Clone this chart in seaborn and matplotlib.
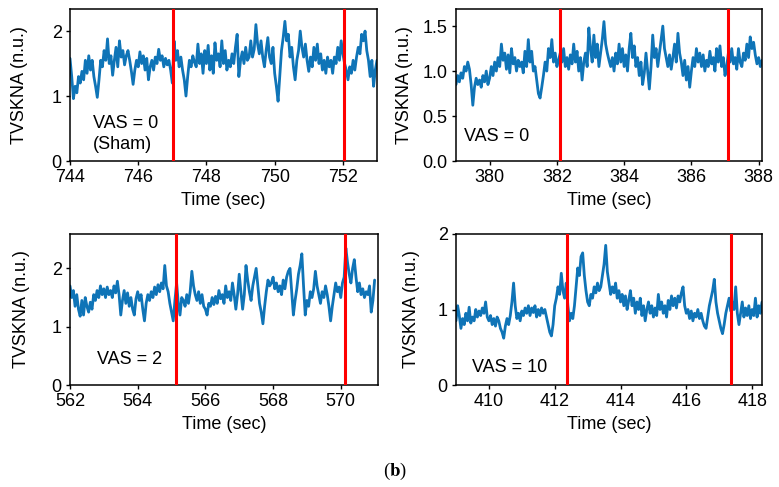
import numpy as np
import matplotlib
matplotlib.use("Agg")
import matplotlib.pyplot as plt
import seaborn as sns

# TVSKNA traces, 0.05 s apart
sham_vals = [1.58, 1.30, 0.96, 1.15, 1.05, 1.30, 1.20, 1.38, 1.25, 1.55, 1.35, 1.62, 1.40, 1.55, 1.30, 1.15,
             0.98, 1.25, 1.55, 1.45, 1.70, 1.55, 1.88, 1.50, 1.62, 1.32, 1.55, 1.75, 1.45, 1.85, 1.60, 1.70,
             1.48, 1.62, 1.70, 1.55, 1.38, 1.18, 1.40, 1.55, 1.45, 1.68, 1.50, 1.62, 1.40, 1.58, 1.25, 1.45,
             1.55, 1.40, 1.60, 1.50, 1.72, 1.55, 1.62, 1.45, 1.58, 1.48, 1.55, 1.40, 1.20, 1.85, 1.55, 1.70,
             1.45, 1.60, 1.40, 1.25, 1.00, 1.30, 1.55, 1.45, 1.62, 1.52, 1.45, 1.80, 1.50, 1.65, 1.35, 1.70,
             1.50, 1.78, 1.40, 1.62, 1.35, 1.82, 1.55, 1.65, 1.45, 1.85, 1.50, 1.70, 1.40, 1.55, 1.45, 1.65,
             1.50, 1.75, 1.95, 1.30, 1.55, 1.68, 1.50, 1.75, 1.55, 1.60, 1.85, 1.60, 1.72, 2.10, 1.80, 1.65,
             1.85, 1.60, 1.45, 1.70, 1.90, 1.60, 1.50, 1.75, 1.35, 1.15, 0.92, 1.30, 1.70, 1.90, 2.15, 1.85,
             1.95, 1.60, 1.75, 1.45, 1.25, 1.55, 1.70, 2.00, 1.75, 1.60, 1.80, 1.55, 1.38, 1.60, 1.45, 1.75,
             1.55, 1.80, 1.50, 1.65, 1.40, 1.55, 1.35, 1.60, 1.45, 1.55, 1.35, 1.60, 1.50, 1.75, 1.55, 1.85,
             1.65, 1.50, 1.40, 1.25, 1.45, 1.35, 1.55, 1.40, 1.60, 1.75, 1.65, 1.95, 1.85, 2.00, 1.70, 1.55,
             1.30, 1.55, 1.15, 1.40, 1.55]
vas0_vals = [0.85, 0.95, 0.88, 0.98, 0.92, 1.05, 1.00, 1.10, 1.02, 0.85, 0.62, 0.82, 0.92, 0.85, 0.90, 0.82,
             0.95, 0.88, 1.00, 0.85, 0.92, 1.05, 0.95, 1.10, 1.00, 1.15, 1.05, 1.30, 1.12, 1.20, 1.02, 1.18,
             0.98, 1.25, 1.08, 1.15, 1.00, 1.12, 1.05, 1.10, 0.98, 1.22, 1.05, 1.35, 1.10, 1.22, 1.00, 1.05,
             0.90, 0.75, 0.70, 0.82, 0.95, 1.10, 1.00, 1.25, 1.15, 1.35, 1.10, 1.20, 1.05, 1.12, 1.20, 1.10,
             1.25, 1.05, 1.15, 1.02, 1.18, 1.08, 1.30, 1.10, 1.22, 1.00, 1.15, 0.90, 1.10, 1.20, 1.05, 1.48,
             1.25, 1.10, 1.40, 1.15, 1.30, 1.05, 1.20, 1.35, 1.55, 1.30, 1.20, 1.12, 1.05, 1.15, 1.00, 1.20,
             1.08, 1.30, 1.10, 1.25, 1.05, 1.18, 1.00, 1.25, 1.42, 1.15, 1.28, 1.05, 1.15, 0.95, 1.10, 0.85,
             0.98, 1.20, 1.00, 0.80, 1.05, 1.40, 1.15, 1.25, 1.05, 1.20, 1.35, 1.50, 1.25, 1.15, 1.05, 1.18,
             1.02, 1.15, 1.30, 1.10, 1.42, 1.20, 1.10, 0.95, 1.12, 0.90, 1.05, 0.82, 1.00, 1.15, 1.05, 1.25,
             1.10, 1.20, 1.05, 1.18, 1.00, 1.12, 1.05, 1.22, 1.08, 1.15, 1.00, 1.25, 1.10, 1.28, 1.05, 1.15,
             0.95, 1.05, 1.20, 1.10, 1.25, 1.08, 1.15, 1.02, 1.25, 1.10, 1.05, 1.20, 1.12, 1.30, 1.15, 1.38,
             1.25, 1.32, 1.18, 1.08, 1.15, 1.05, 1.12]
vas2_vals = [1.70, 1.50, 1.62, 1.35, 1.55, 1.30, 1.18, 1.45, 1.20, 1.50, 1.35, 1.25, 1.42, 1.30, 1.55, 1.45,
             1.62, 1.50, 1.70, 1.55, 1.65, 1.50, 1.68, 1.55, 1.62, 1.50, 1.70, 1.58, 1.78, 1.55, 1.20, 1.45,
             1.62, 1.40, 1.58, 1.35, 1.50, 1.30, 1.20, 1.48, 1.60, 1.45, 1.55, 1.30, 1.10, 1.40, 1.55, 1.45,
             1.60, 1.50, 1.68, 1.55, 1.72, 1.60, 1.75, 1.65, 2.05, 1.70, 1.60, 1.40, 1.25, 1.10, 1.45, 1.75,
             1.40, 1.20, 1.50, 1.45, 1.35, 1.55, 1.40, 1.60, 1.95, 1.70, 1.55, 1.45, 1.60, 1.40, 1.55, 1.35,
             1.30, 1.20, 1.40, 1.35, 1.50, 1.38, 1.52, 1.40, 1.62, 1.48, 1.55, 1.40, 1.70, 1.50, 1.60, 1.45,
             1.75, 1.55, 1.30, 1.55, 1.90, 1.60, 1.30, 1.55, 2.05, 1.80, 1.60, 1.45, 1.70, 1.85, 2.00, 1.70,
             1.40, 1.25, 1.05, 1.35, 1.60, 1.80, 1.70, 1.75, 1.85, 1.65, 1.75, 1.60, 1.70, 1.55, 1.80, 1.65,
             1.85, 1.95, 2.00, 1.60, 1.20, 1.45, 1.65, 1.90, 2.05, 2.25, 1.70, 1.20, 1.45, 1.35, 1.60, 1.50,
             1.65, 1.95, 1.70, 1.55, 1.40, 1.60, 1.50, 1.70, 1.55, 1.35, 1.10, 1.35, 1.55, 1.75, 1.60, 1.68,
             1.50, 1.75, 1.85, 2.35, 2.10, 1.90, 1.75, 2.00, 2.15, 1.85, 1.60, 1.75, 1.55, 1.65, 1.50, 1.60,
             1.55, 1.70, 1.25, 1.45, 1.80]
vas10_vals = [0.85, 1.05, 0.92, 0.75, 0.88, 0.80, 0.95, 0.85, 1.03, 0.82, 0.90, 0.85, 1.00, 0.90, 0.98, 0.92,
              1.02, 0.95, 1.10, 0.90, 0.85, 0.92, 0.80, 0.88, 0.78, 0.90, 0.85, 0.75, 0.70, 0.62, 0.78, 0.88,
              0.80, 0.92, 1.10, 1.35, 1.05, 0.88, 0.95, 0.85, 0.98, 0.92, 1.02, 0.95, 1.05, 0.92, 1.02, 0.96,
              1.05, 0.90, 1.00, 0.92, 1.02, 0.95, 1.00, 0.90, 0.80, 0.70, 0.65, 0.80, 1.05, 1.15, 1.30, 1.20,
              1.48, 1.25, 1.15, 1.35, 1.05, 0.85, 0.95, 0.88, 1.05, 1.30, 1.55, 1.45, 1.70, 1.75, 1.45, 1.25,
              1.10, 1.05, 1.20, 1.15, 1.30, 1.22, 1.35, 1.25, 1.30, 1.45, 1.60, 1.85, 1.50, 1.35, 1.20, 1.30,
              1.22, 1.35, 1.15, 1.25, 1.10, 1.20, 1.05, 1.18, 1.00, 1.12, 1.25, 1.05, 1.15, 0.95, 1.10, 1.00,
              1.15, 0.92, 1.05, 0.85, 1.00, 1.10, 0.95, 1.05, 0.90, 1.02, 0.92, 1.20, 1.00, 1.10, 0.95, 1.05,
              0.90, 1.12, 1.00, 1.18, 1.05, 1.15, 1.02, 1.18, 1.10, 1.22, 1.30, 1.05, 0.95, 1.00, 0.88, 0.98,
              0.85, 0.95, 0.90, 1.00, 0.88, 0.95, 0.85, 0.78, 0.75, 0.90, 1.05, 1.15, 1.25, 1.40, 1.10, 0.95,
              0.85, 0.75, 0.68, 0.80, 0.95, 1.05, 1.15, 0.98, 1.10, 1.00, 1.30, 0.95, 0.80, 0.95, 1.10, 0.90,
              1.02, 0.92, 1.05, 0.88, 1.00, 0.92, 1.15, 0.90, 1.05, 0.95, 1.10]

starts = [744.0, 379.0, 562.0, 409.0]
traces = [sham_vals, vas0_vals, vas2_vals, vas10_vals]
labels = ["VAS = 0\n(Sham)", "VAS = 0", "VAS = 2", "VAS = 10"]
markers = [[747.02, 752.03], [382.08, 387.08], [565.12, 570.12], [412.36, 417.35]]
xlims = [(744, 753), (379, 388.1), (562, 571.1), (409, 418.3)]
ylims = [(0, 2.34), (0, 1.69), (0, 2.59), (0, 2.0)]
yticks = [[0, 1, 2], [0.0, 0.5, 1.0, 1.5], [0, 1, 2], [0, 1, 2]]
xticks = [range(744, 753, 2), range(380, 389, 2), range(562, 571, 2), range(410, 419, 2)]

sns.set_style("ticks")
plt.rcParams['font.family'] = ['Liberation Sans', 'DejaVu Sans']
plt.rcParams['font.size'] = 13
for key in ['text.color', 'axes.labelcolor', 'xtick.color', 'ytick.color', 'axes.edgecolor']:
    plt.rcParams[key] = 'black'

W, H = 779, 487
fig = plt.figure(figsize=(W / 100, H / 100), dpi=100)

# axes boxes in pixels: left, top, right, bottom
boxes = [(70, 9, 377, 161), (456, 9, 762, 161), (70, 234, 378, 385), (456, 234, 762, 385)]
text_pos = [(0.074, 0.30), (0.027, 0.22), (0.087, 0.225), (0.052, 0.17)]
ylab_x = [-0.137, -0.14, -0.13, -0.117]

for i in range(4):
    l, t, r, b = boxes[i]
    ax = fig.add_axes([l / W, 1 - b / H, (r - l) / W, (b - t) / H])
    vals = traces[i]
    tt = starts[i] + 0.05 * np.arange(len(vals))
    sns.lineplot(x=tt, y=vals, ax=ax, color="#0f74b7", linewidth=2.0)
    for m in markers[i]:
        ax.axvline(m, color="red", linewidth=2.2, zorder=5)
    ax.set_xlim(*xlims[i])
    ax.set_ylim(*ylims[i])
    ax.set_xticks(list(xticks[i]))
    ax.set_yticks(yticks[i])
    if i == 1:
        ax.set_yticklabels(["0.0", "0.5", "1.0", "1.5"])
    ax.set_xlabel("Time (sec)")
    ax.set_ylabel("TVSKNA (n.u.)")
    ax.yaxis.set_label_coords(ylab_x[i], 0.5)
    ax.tick_params(direction="out", length=3, width=1, labelsize=13, pad=3, colors="black")
    for s in ax.spines.values():
        s.set_linewidth(1.1)
        s.set_color("black")
    ax.text(text_pos[i][0], text_pos[i][1], labels[i], transform=ax.transAxes,
            ha="left", va="top", fontsize=13, linespacing=1.25, color="black")

plt.rcParams['mathtext.fontset'] = 'stix'
fig.text(395 / W, 1 - 471 / H, r"($\mathbf{b}$)", ha="center", va="center",
         fontsize=13.5, family="Liberation Serif", color="black")

fig.savefig("out.png", dpi=100)
